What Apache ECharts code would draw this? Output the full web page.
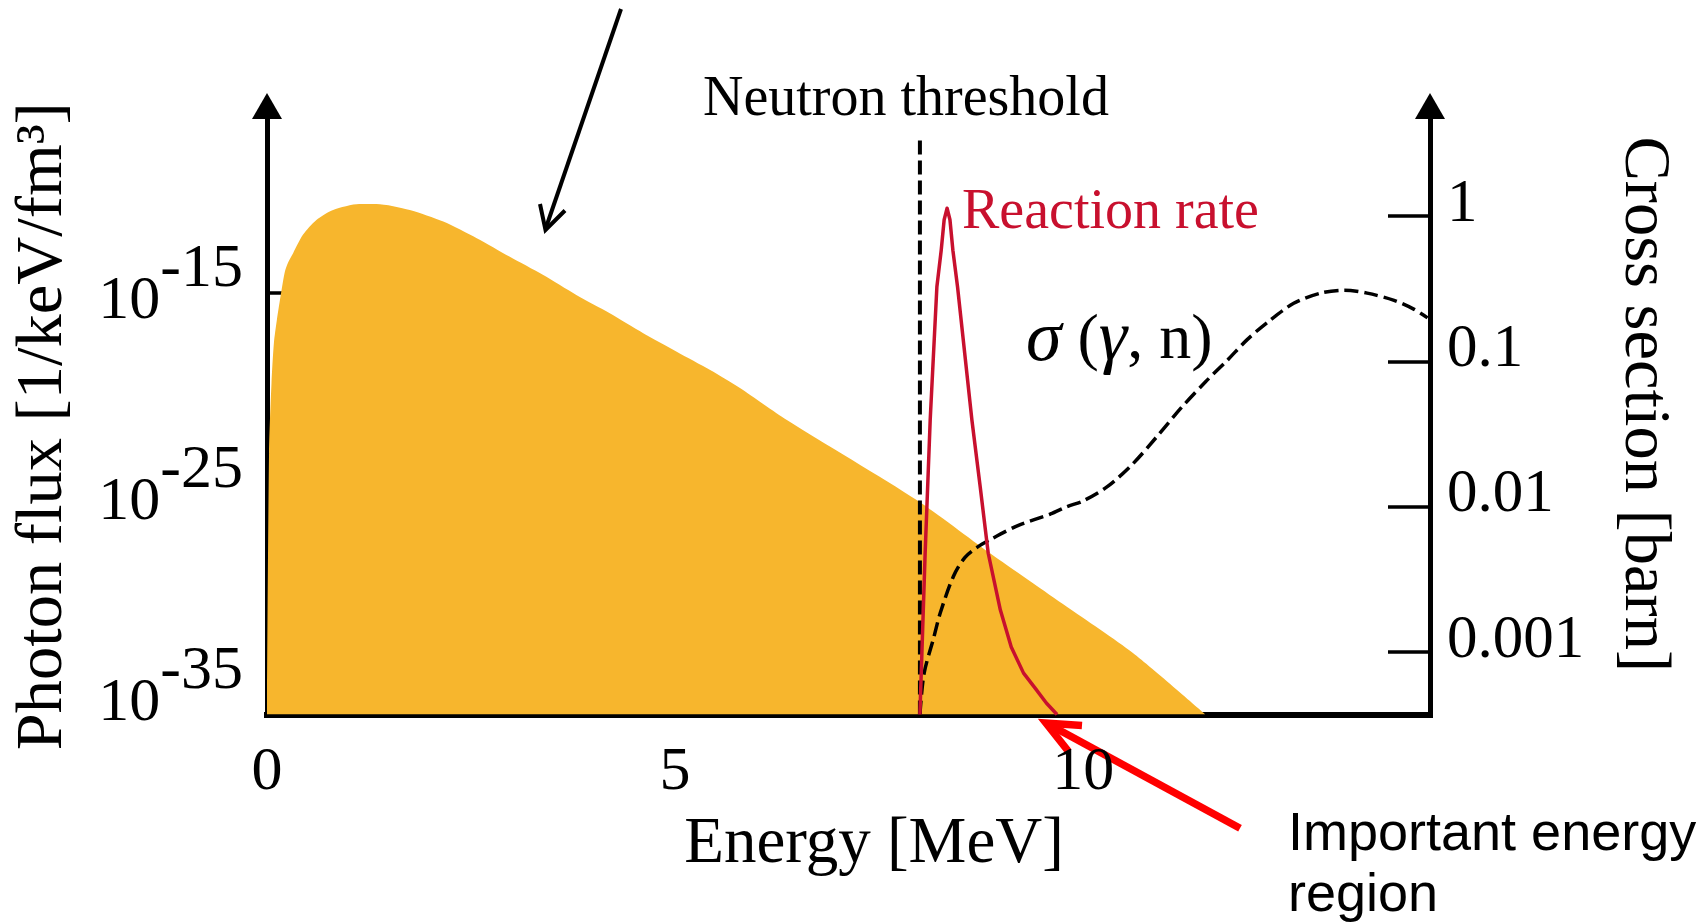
<!DOCTYPE html>
<html>
<head>
<meta charset="utf-8">
<script src="https://cdn.jsdelivr.net/npm/echarts@6/dist/echarts.min.js"></script>
<style>
  html, body { margin: 0; padding: 0; background: #ffffff; }
  #chart { width: 1708px; height: 924px; }
</style>
</head>
<body>
<div id="chart"></div>
<script>
// Thermal Planck photon spectrum: energy [MeV] and log10 of the photon flux [1/keV/fm^3]
const planckEnergy  = [0.00, 0.025, 0.055, 0.085, 0.12, 0.174, 0.22, 0.26, 0.32, 0.44, 0.605, 0.81, 1.13, 1.34, 1.75, 2.16, 2.57, 2.97, 3.38, 3.79, 4.20, 4.61, 5.02, 5.43, 5.80, 6.37, 7.96, 8.86, 9.80, 10.61, 11.50];
const planckLogFlux = [-36.0, -23.0, -19.52, -17.5, -16.4, -15.0, -13.95, -13.5, -13.05, -12.14, -11.40, -10.90, -10.60, -10.60, -10.90, -11.48, -12.31, -13.22, -14.13, -15.13, -16.04, -17.03, -17.95, -18.86, -19.77, -21.35, -25.33, -27.98, -30.64, -32.94, -36.0];

// (gamma, n) cross section: energy [MeV] and log10 of sigma [barn]
const sigmaEnergy   = [8.00, 8.05, 8.17, 8.25, 8.41, 8.55, 8.70, 8.85, 9.20, 9.60, 9.80, 10.00, 10.30, 10.60, 10.90, 11.20, 11.50, 11.77, 12.01, 12.26, 12.58, 12.91, 13.20, 13.48, 13.81, 14.05, 14.22];
const sigmaLogBarn  = [-3.43, -3.15, -2.90, -2.73, -2.48, -2.35, -2.28, -2.23, -2.13, -2.05, -2.00, -1.96, -1.86, -1.71, -1.52, -1.32, -1.14, -0.99, -0.85, -0.73, -0.60, -0.53, -0.51, -0.53, -0.58, -0.64, -0.70];

// Reaction rate (relative units) above the neutron threshold
const rateEnergy    = [8.00, 8.064, 8.126, 8.208, 8.261, 8.297, 8.333, 8.368, 8.404, 8.461, 8.637, 8.739, 8.837, 8.985, 9.119, 9.270, 9.414, 9.549, 9.680];
const rateRelative  = [0.000, 0.265, 0.484, 0.703, 0.763, 0.813, 0.832, 0.813, 0.763, 0.703, 0.484, 0.374, 0.265, 0.172, 0.111, 0.068, 0.043, 0.019, 0.000];

// Neutron separation threshold [MeV] and the top of its marker line (log10 flux)
const thresholdEnergy = 8.0;
const thresholdTopLog = -7.45;

// Axis ticks
const energyTickValues  = [5, 10];
const energyLabelValues = [0, 5, 10];
const fluxTickExponents = [-35, -25, -15];
const sigmaTickValues   = [-3, -2, -1, 0];
const sigmaTickLabels   = ['0.001', '0.01', '0.1', '1'];

const SERIF = 'Liberation Serif';
const SANS = 'Liberation Sans';
const RED = '#C8102E';

const zip = (xs, ys) => xs.map((x, i) => [x, ys[i]]);

const chart = echarts.init(document.getElementById('chart'), null, { renderer: 'canvas' });

const axisLineStyle = (w) => ({ color: '#000', width: w, cap: 'square' });

chart.setOption({
  animation: false,
  backgroundColor: '#ffffff',
  grid: { left: 267, right: 278, top: 106, bottom: 209.5, containLabel: false },
  xAxis: {
    type: 'value', min: 0, max: 14.25,
    axisLine: { show: true, onZero: false, lineStyle: axisLineStyle(6) },
    axisTick: { show: true, inside: true, length: 41, customValues: energyTickValues,
                lineStyle: { color: '#000', width: 3.5 } },
    axisLabel: { customValues: energyLabelValues, margin: 27, color: '#000',
                 fontFamily: SERIF, fontSize: 62 },
    splitLine: { show: false },
    name: 'Energy [MeV]', nameLocation: 'middle', nameGap: 98,
    nameTextStyle: { fontFamily: SERIF, fontSize: 65, color: '#000', padding: [0, 0, 0, 51] }
  },
  yAxis: [
    {
      type: 'value', position: 'left', min: -36, max: -5.73,
      axisLine: { show: true, onZero: false, symbol: ['none', 'triangle'], symbolSize: [30, 26],
                  lineStyle: axisLineStyle(5) },
      axisTick: { show: true, inside: true, length: 45, customValues: fluxTickExponents,
                  lineStyle: { color: '#000', width: 3.5 } },
      axisLabel: {
        customValues: fluxTickExponents, margin: 24, padding: [0, 0, 14, 0],
        formatter: (v) => '{b|10}{s|' + v + '}',
        rich: {
          b: { fontFamily: SERIF, fontSize: 62, color: '#000', verticalAlign: 'bottom', padding: [32, 0, 0, 0] },
          s: { fontFamily: SERIF, fontSize: 62, color: '#000', verticalAlign: 'top' }
        }
      },
      splitLine: { show: false },
      name: 'Photon flux [1/keV/fm\u00B3]', nameLocation: 'middle', nameGap: 190,
      nameTextStyle: { fontFamily: SERIF, fontSize: 66.5, color: '#000', padding: [0, 32, 0, 0] }
    },
    {
      type: 'value', position: 'right', min: -3.43, max: 0.758,
      axisLine: { show: true, onZero: false, symbol: ['none', 'triangle'], symbolSize: [30, 26],
                  lineStyle: axisLineStyle(5) },
      axisTick: { show: true, inside: true, length: 42, customValues: sigmaTickValues,
                  lineStyle: { color: '#000', width: 3.5 } },
      axisLabel: {
        customValues: sigmaTickValues, margin: 17,
        formatter: (v) => '{v|' + sigmaTickLabels[sigmaTickValues.indexOf(Math.round(v))] + '}',
        rich: {
          v: { fontFamily: SERIF, fontSize: 61, color: '#000', padding: [0, 0, 23, 0] }
        }
      },
      splitLine: { show: false },
      name: 'Cross section [barn]', nameLocation: 'middle', nameRotate: -90, nameGap: 180,
      nameTextStyle: { fontFamily: SERIF, fontSize: 66.5, color: '#000', padding: [0, 12, 0, 0] }
    },
    { type: 'value', min: 0, max: 1, show: false }
  ],
  series: [
    {
      name: 'Thermal Planck spectrum', type: 'line', xAxisIndex: 0, yAxisIndex: 0,
      data: zip(planckEnergy, planckLogFlux),
      smooth: 0.25, symbol: 'none',
      lineStyle: { width: 0 },
      areaStyle: { color: '#F7B62D', opacity: 1, origin: 'start' },
      z: 1
    },
    {
      name: 'Neutron threshold', type: 'line', xAxisIndex: 0, yAxisIndex: 0,
      data: [[thresholdEnergy, -36], [thresholdEnergy, thresholdTopLog]],
      symbol: 'none',
      lineStyle: { color: '#000', width: 4, type: [14, 6] },
      z: 2
    },
    {
      name: 'sigma(gamma,n)', type: 'line', xAxisIndex: 0, yAxisIndex: 1,
      data: zip(sigmaEnergy, sigmaLogBarn),
      smooth: 0.3, symbol: 'none',
      lineStyle: { color: '#000', width: 3.5, type: [14, 6] },
      z: 3
    },
    {
      name: 'Reaction rate', type: 'line', xAxisIndex: 0, yAxisIndex: 2,
      data: zip(rateEnergy, rateRelative),
      smooth: false, symbol: 'none',
      lineStyle: { color: RED, width: 3.5, join: 'round' },
      z: 4
    }
  ],
  graphic: [
    // annotation arrow pointing at the spectrum
    { type: 'line', shape: { x1: 621, y1: 9, x2: 545.5, y2: 229 },
      style: { stroke: '#000', lineWidth: 4 } },
    { type: 'polyline', shape: { points: [[540, 204], [545.5, 230], [565, 210.5]] },
      style: { stroke: '#000', lineWidth: 4, fill: null } },
    // red arrow marking the important energy region
    { type: 'line', shape: { x1: 1240, y1: 828.3, x2: 1049, y2: 724.5 },
      style: { stroke: '#FF0000', lineWidth: 7.5 } },
    { type: 'polyline', shape: { points: [[1082, 725.5], [1046, 723], [1068.5, 751.5]] },
      style: { stroke: '#FF0000', lineWidth: 7.5, fill: null, lineJoin: 'miter' } },
    // text annotations
    { type: 'text', x: 703, y: 100, style: { text: 'Neutron threshold', fontFamily: SERIF, fontSize: 56,
      fill: '#000', align: 'left', verticalAlign: 'middle' } },
    { type: 'text', x: 962, y: 213.5, style: { text: 'Reaction rate', fontFamily: SERIF, fontSize: 56,
      fill: RED, align: 'left', verticalAlign: 'middle' } },
    { type: 'text', x: 1026, y: 341, style: {
      text: '{g|\u03C3}{t| (}{g|\u03B3}{t|, n)}', fontFamily: SERIF, fontSize: 64, fill: '#000',
      align: 'left', verticalAlign: 'middle',
      rich: {
        g: { fontFamily: SERIF, fontStyle: 'italic', fontSize: 72, fill: '#000' },
        t: { fontFamily: SERIF, fontSize: 64, fill: '#000' }
      } } },
    { type: 'text', x: 343, y: 470.3, style: { text: 'Thermal Plank', fontFamily: SERIF, fontSize: 56,
      fill: '#000', align: 'left', verticalAlign: 'middle' } },
    { type: 'text', x: 354, y: 527, style: { text: 'spectrum', fontFamily: SERIF, fontSize: 56,
      fill: '#000', align: 'left', verticalAlign: 'middle' } },
    { type: 'text', x: 1288, y: 835, style: { text: 'Important energy', fontFamily: SANS, fontSize: 54,
      fill: '#000', align: 'left', verticalAlign: 'middle' } },
    { type: 'text', x: 1288, y: 896.5, style: { text: 'region', fontFamily: SANS, fontSize: 54,
      fill: '#000', align: 'left', verticalAlign: 'middle' } }
  ]
});
</script>
</body>
</html>
